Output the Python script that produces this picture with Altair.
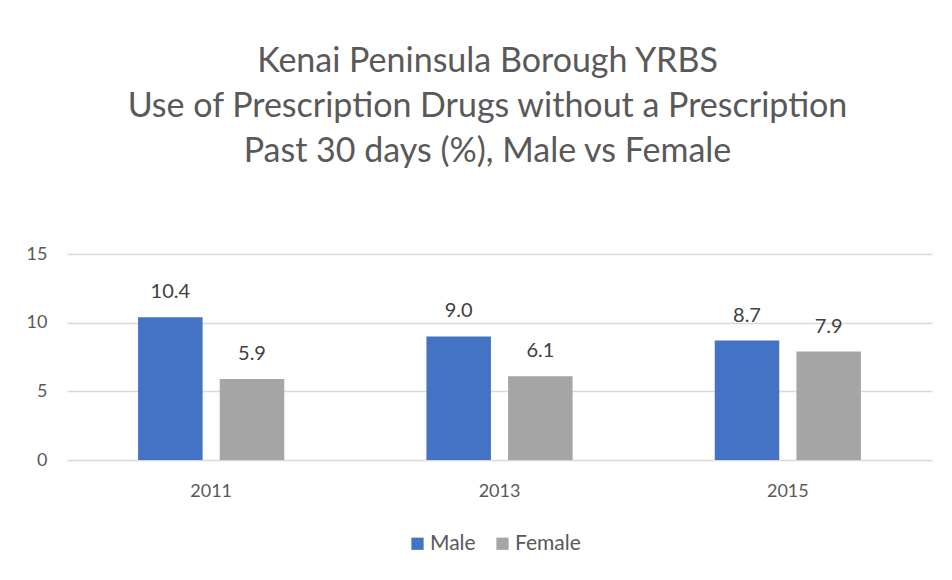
import altair as alt
import pandas as pd

years = ["2011", "2013", "2015"]
male = [10.4, 9.0, 8.7]
female = [5.9, 6.1, 7.9]
series = ["Male", "Female"]
colors = ["#4472C4", "#A5A5A5"]
title_lines = [
    "Kenai Peninsula Borough YRBS",
    "Use of Prescription Drugs without a Prescription",
    "Past 30 days (%), Male vs Female",
]

rows = []
for i, y in enumerate(years):
    rows.append({"year": y, "sex": "Male", "value": male[i], "label": f"{male[i]:.1f}"})
    rows.append({"year": y, "sex": "Female", "value": female[i], "label": f"{female[i]:.1f}"})
df = pd.DataFrame(rows)

FONT = "Lato"

x = alt.X("year:N", sort=years, title=None,
          scale=alt.Scale(paddingInner=0.493, paddingOuter=0.2465),
          axis=alt.Axis(labelAngle=0, labelFontSize=18, labelColor="#595959",
                        labelPadding=22, ticks=False, domain=False, labelFont=FONT))
xoff = alt.XOffset("sex:N", sort=series,
                   scale=alt.Scale(paddingInner=0.21, paddingOuter=0))
y = alt.Y("value:Q", title=None,
          scale=alt.Scale(domain=[0, 15]),
          axis=alt.Axis(values=[0, 5, 10, 15], labelFontSize=18, labelColor="#595959",
                        labelPadding=20, ticks=False, domain=False, gridColor="#d9d9d9",
                        gridWidth=1.3, labelFont=FONT))

bars = alt.Chart(df).mark_bar().encode(
    x=x, xOffset=xoff, y=y,
    color=alt.Color("sex:N", sort=series,
                    scale=alt.Scale(domain=series, range=colors),
                    legend=alt.Legend(title=None, orient="none", direction="horizontal",
                                      legendX=340, legendY=279,
                                      symbolType="square", symbolSize=150,
                                      symbolStrokeWidth=0,
                                      labelFontSize=21, labelColor="#595959",
                                      labelFont=FONT, columnPadding=16,
                                      labelOffset=2)),
)

text = alt.Chart(df).mark_text(baseline="bottom", dy=-15, fontSize=20,
                               color="#404040", font=FONT).encode(
    x=x, xOffset=xoff, y=y, text="label:N"
)

chart = (bars + text).properties(
    width=865, height=206,
    autosize=alt.AutoSizeParams(type="none"),
    padding={"left": 59, "top": 246, "right": 12, "bottom": 100},
    title=alt.TitleParams(text=title_lines, fontSize=34, lineHeight=45,
                          color="#595959", font=FONT, fontWeight="normal",
                          anchor="middle", offset=76, dx=-12),
).configure_view(stroke=None)

chart.save("out.html", embed_options={"renderer": "svg", "actions": False})
